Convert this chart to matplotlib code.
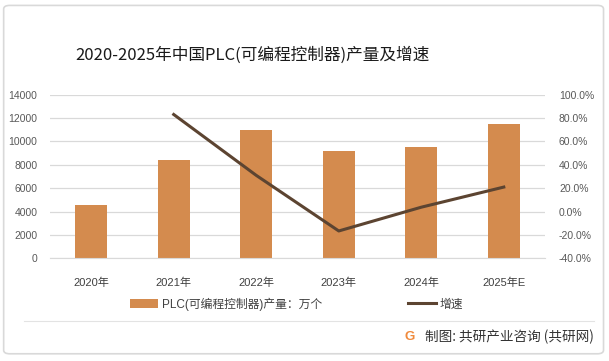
import matplotlib.pyplot as plt
from matplotlib.patches import FancyBboxPatch, Patch
from matplotlib.lines import Line2D

plt.rcParams['font.family'] = ['Liberation Sans', 'Noto Sans CJK SC', 'DejaVu Sans']

# Data
years = ["2020年", "2021年", "2022年", "2023年", "2024年", "2025年E"]
output = [4600, 8400, 11000, 9200, 9500, 11500]      # 万个
growth_years = ["2021年", "2022年", "2023年", "2024年", "2025年E"]
growth = [83.0, 31.0, -16.5, 3.8, 21.0]              # %
left_ticks = [0, 2000, 4000, 6000, 8000, 10000, 12000, 14000]
right_ticks = [-40, -20, 0, 20, 40, 60, 80, 100]

bar_color = "#d48b4e"
line_color = "#5c4431"
tick_color = "#595959"

fig = plt.figure(figsize=(6.09, 3.61), dpi=100)

# outer frame
fig.patches.append(FancyBboxPatch((0.006, 0.02), 0.985, 0.965, boxstyle="round,pad=0,rounding_size=0.01",
                                  transform=fig.transFigure, facecolor="none",
                                  edgecolor="#d9d9d9", linewidth=1.2))

ax = fig.add_axes([0.082, 0.284, 0.813, 0.454])
x = list(range(len(years)))
ax.bar(x, output, width=0.39, color=bar_color, zorder=2)
ax.set_ylim(0, 14000)
ax.set_yticks(left_ticks)
ax.set_yticklabels([str(v) for v in left_ticks])
ax.set_xlim(-0.5, len(years) - 0.5)
ax.set_xticks(x)
ax.set_xticklabels(years)
ax.grid(axis="y", color="#d9d9d9", linewidth=0.9, zorder=0)
ax.tick_params(axis="y", length=0, pad=9, labelsize=7.5, labelcolor=tick_color)
ax.tick_params(axis="x", length=0, pad=14, labelsize=8, labelcolor="#404040")
for s in ax.spines.values():
    s.set_visible(False)
ax.spines["bottom"].set_visible(True)
ax.spines["bottom"].set_color("#d9d9d9")

ax2 = ax.twinx()
gx = [years.index(y) for y in growth_years]
ax2.plot(gx, growth, color=line_color, linewidth=2.2, zorder=3)
ax2.set_ylim(-40, 100)
ax2.set_yticks(right_ticks)
ax2.set_yticklabels([f"{v:.1f}%" for v in right_ticks])
ax2.tick_params(axis="y", length=0, pad=10, labelsize=7.5, labelcolor=tick_color)
for s in ax2.spines.values():
    s.set_visible(False)

fig.text(0.415, 0.846, "2020-2025年中国PLC(可编程控制器)产量及增速", ha="center", va="center",
         fontsize=12, color="#1a1a1a", family=["Noto Sans CJK SC", "DejaVu Sans"])

handles = [Patch(facecolor=bar_color), Line2D([0], [0], color=line_color, linewidth=2.2)]
fig.legend(handles, ["PLC(可编程控制器)产量：万个", "增速"], loc="center",
           bbox_to_anchor=(0.487, 0.158), ncol=2, frameon=False, fontsize=8.5,
           columnspacing=7.3, handlelength=2.4, handletextpad=0.3, labelcolor="#404040")

# footer
fig.add_artist(Line2D([0.04, 0.975], [0.11, 0.11], transform=fig.transFigure,
                      color="#e3e3e3", linewidth=0.8))
fig.text(0.673, 0.067, "G", ha="center", va="center", fontsize=9.5, fontweight="bold",
         color="#f08a3c")
fig.text(0.698, 0.067, "制图: 共研产业咨询 (共研网)", ha="left", va="center",
         fontsize=9.8, color="#333333", family=["Noto Sans CJK SC", "DejaVu Sans"])

plt.savefig("out.png", dpi=100)
